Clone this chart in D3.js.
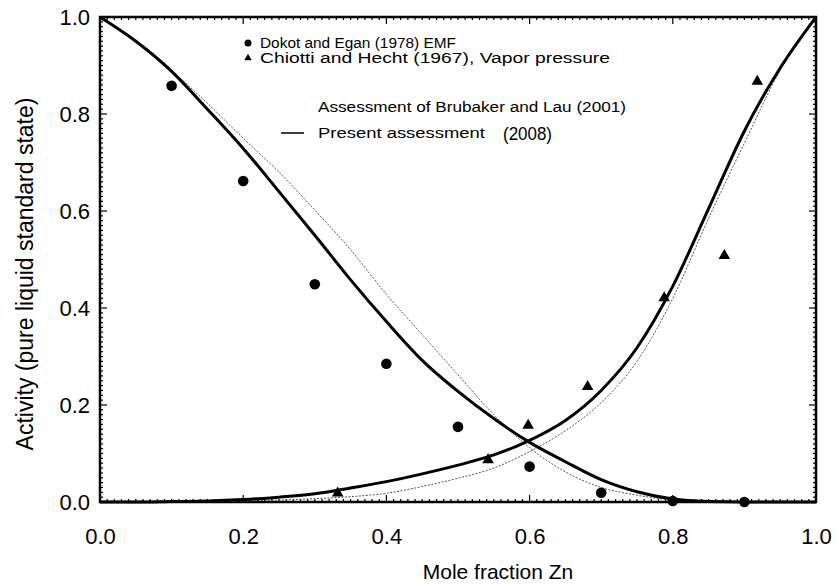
<!DOCTYPE html>
<html>
<head>
<meta charset="utf-8">
<script src="https://cdn.jsdelivr.net/npm/d3@7"></script>
<style>
  html, body { margin: 0; padding: 0; background: #fff; }
  svg { display: block; font-family: "Liberation Sans", Arial, Helvetica, sans-serif; }
</style>
</head>
<body>
<svg id="chart" width="837" height="585"></svg>
<script>
// ---- data ----
const tickValues = [0, 0.2, 0.4, 0.6, 0.8, 1.0];
const tickLabels = ["0.0", "0.2", "0.4", "0.6", "0.8", "1.0"];

const emfX = [0.1, 0.2, 0.3, 0.4, 0.5, 0.6, 0.7, 0.8, 0.9];
const emfY = [0.858, 0.662, 0.449, 0.285, 0.155, 0.073, 0.019, 0.002, 0.0];

const vpX = [0.332, 0.542, 0.598, 0.681, 0.788, 0.872, 0.918];
const vpY = [0.018, 0.087, 0.158, 0.238, 0.421, 0.508, 0.867];

const curveX     = [0, 0.05, 0.1, 0.15, 0.2, 0.25, 0.3, 0.35, 0.4, 0.45, 0.5, 0.55, 0.6, 0.65, 0.7, 0.75, 0.8, 0.85, 0.9, 0.95, 1];
const snPresent  = [1, 0.95, 0.888, 0.81, 0.729, 0.64, 0.55, 0.458, 0.372, 0.292, 0.228, 0.172, 0.123, 0.083, 0.046, 0.021, 0.006, 0.001, 0, 0, 0];
const znPresent  = [0, 0, 0.001, 0.002, 0.005, 0.01, 0.017, 0.029, 0.042, 0.058, 0.076, 0.097, 0.127, 0.168, 0.23, 0.318, 0.445, 0.605, 0.765, 0.895, 1];
const snBrubaker = [1, 0.95, 0.89, 0.822, 0.75, 0.68, 0.602, 0.52, 0.428, 0.345, 0.262, 0.18, 0.112, 0.062, 0.03, 0.014, 0.004, 0.001, 0, 0, 0];
const znBrubaker = [0, 0, 0, 0.001, 0.002, 0.004, 0.007, 0.011, 0.018, 0.032, 0.049, 0.07, 0.104, 0.147, 0.205, 0.29, 0.42, 0.585, 0.74, 0.89, 1];

const legendLabels = [
  "Dokot and Egan (1978) EMF",
  "Chiotti and Hecht (1967), Vapor pressure",
  "Assessment of Brubaker and Lau (2001)",
  "Present assessment",
  "(2008)"
];
const xTitle = "Mole fraction Zn";
const yTitle = "Activity (pure liquid standard state)";

// ---- layout ----
const L = 100, R = 816, T = 17, B = 502;
const svg = d3.select("#chart");
const x = d3.scaleLinear().domain([0, 1]).range([L, R]);
const y = d3.scaleLinear().domain([0, 1]).range([B, T]);

// minor / major ticks on all four sides (inward)
const minor = d3.range(0, 101).map(i => i / 100);
const tk = svg.append("g").attr("stroke", "#000").attr("stroke-width", 1.2);
minor.forEach(v => {
  const major = Math.abs(v * 5 - Math.round(v * 5)) < 1e-9;
  const len = major ? 7 : 3;
  tk.append("line").attr("x1", x(v)).attr("x2", x(v)).attr("y1", B).attr("y2", B - len);
  tk.append("line").attr("x1", x(v)).attr("x2", x(v)).attr("y1", T).attr("y2", T + len);
  tk.append("line").attr("y1", y(v)).attr("y2", y(v)).attr("x1", L).attr("x2", L + len);
  tk.append("line").attr("y1", y(v)).attr("y2", y(v)).attr("x1", R).attr("x2", R - len);
});

// frame
svg.append("rect").attr("x", L).attr("y", T).attr("width", R - L).attr("height", B - T)
  .attr("fill", "none").attr("stroke", "#000").attr("stroke-width", 2.5);

// tick labels via d3 axes
const xAxis = d3.axisBottom(x).tickValues(tickValues).tickFormat((d, i) => tickLabels[i]).tickSize(0).tickPadding(26);
const gx = svg.append("g").attr("transform", `translate(0,${B})`).call(xAxis);
gx.select(".domain").remove();
gx.selectAll("text").attr("font-size", 22).attr("font-family", "Liberation Sans, Arial, sans-serif").attr("fill", "#000");

const yAxis = d3.axisLeft(y).tickValues(tickValues).tickFormat((d, i) => tickLabels[i]).tickSize(0).tickPadding(10);
const gy = svg.append("g").attr("transform", `translate(${L},0)`).call(yAxis);
gy.select(".domain").remove();
gy.selectAll("text").attr("font-size", 22).attr("font-family", "Liberation Sans, Arial, sans-serif").attr("fill", "#000");

svg.append("text").attr("x", 498).attr("y", 579).attr("text-anchor", "middle")
  .attr("font-size", 21).text(xTitle);
svg.append("text").attr("transform", `translate(33,274) rotate(-90)`).attr("text-anchor", "middle")
  .attr("font-size", 23).text(yTitle);

// curves
const line = d3.line().x(d => x(d[0])).y(d => y(d[1])).curve(d3.curveMonotoneX);
const mk = arr => curveX.map((v, i) => [v, arr[i]]);
[snBrubaker, znBrubaker].forEach(arr => {
  svg.append("path").datum(mk(arr)).attr("d", line).attr("fill", "none")
    .attr("stroke", "#555").attr("stroke-width", 1).attr("stroke-dasharray", "2,1.5");
});
[snPresent, znPresent].forEach(arr => {
  svg.append("path").datum(mk(arr)).attr("d", line).attr("fill", "none")
    .attr("stroke", "#000").attr("stroke-width", 3);
});

// markers
svg.append("g").selectAll("circle").data(emfX.map((v, i) => [v, emfY[i]])).join("circle")
  .attr("cx", d => x(d[0])).attr("cy", d => y(d[1])).attr("r", 5.3).attr("fill", "#000");
const tri = d3.symbol().type(d3.symbolTriangle).size(58);
svg.append("g").selectAll("path").data(vpX.map((v, i) => [v, vpY[i]])).join("path")
  .attr("d", tri).attr("transform", d => `translate(${x(d[0])},${y(d[1])})`).attr("fill", "#000");

// legend
const lg = svg.append("g").attr("font-size", 14).attr("fill", "#000");
lg.append("circle").attr("cx", 248).attr("cy", 43).attr("r", 3.5).attr("fill", "#000");
lg.append("text").attr("x", 260).attr("y", 48).attr("textLength", 196).attr("lengthAdjust", "spacingAndGlyphs").text(legendLabels[0]);
lg.append("path").attr("d", d3.symbol().type(d3.symbolTriangle).size(24)).attr("transform", "translate(248,58)").attr("fill", "#000");
lg.append("text").attr("x", 260).attr("y", 63).attr("textLength", 350).attr("lengthAdjust", "spacingAndGlyphs").text(legendLabels[1]);
lg.append("text").attr("x", 318).attr("y", 112).attr("textLength", 308).attr("lengthAdjust", "spacingAndGlyphs").text(legendLabels[2]);
lg.append("line").attr("x1", 281).attr("x2", 304).attr("y1", 133).attr("y2", 133).attr("stroke", "#000").attr("stroke-width", 1.5);
lg.append("text").attr("x", 318).attr("y", 138).attr("textLength", 167).attr("lengthAdjust", "spacingAndGlyphs").text(legendLabels[3]);
lg.append("text").attr("x", 503).attr("y", 140).attr("font-size", 19).attr("textLength", 49).attr("lengthAdjust", "spacingAndGlyphs")
  .attr("font-family", "Liberation Sans Narrow, Liberation Sans, sans-serif").text(legendLabels[4]);
</script>
</body>
</html>
